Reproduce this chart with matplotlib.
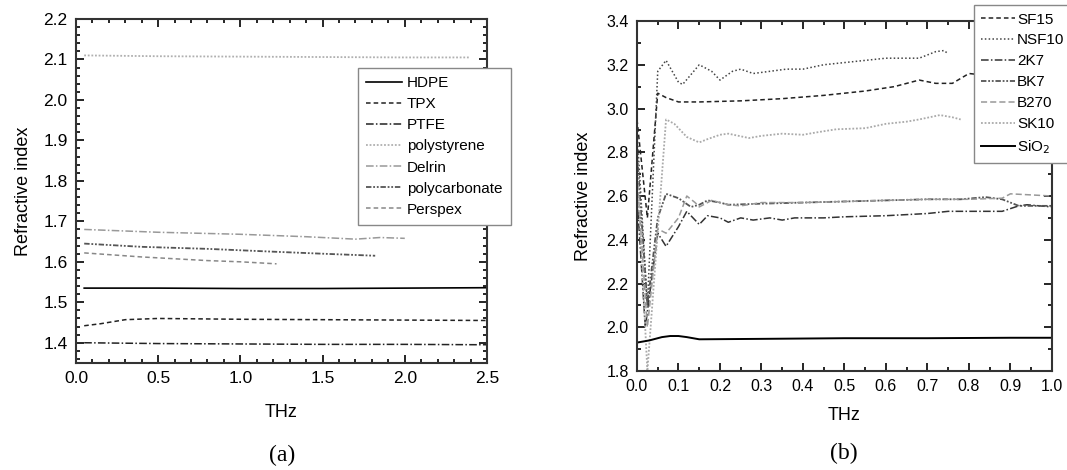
import matplotlib
matplotlib.use("Agg")
import matplotlib.pyplot as plt
from matplotlib.ticker import MultipleLocator

plt.rcParams["font.family"] = ["Liberation Sans", "DejaVu Sans"]

# ---- panel (a): polymers ----
hdpe_x = [0.05, 0.5, 1.0, 1.5, 2.0, 2.5]
hdpe_y = [1.535, 1.535, 1.534, 1.534, 1.535, 1.536]
tpx_x = [0.05, 0.15, 0.3, 0.5, 1.0, 1.5, 2.0, 2.5]
tpx_y = [1.442, 1.447, 1.457, 1.46, 1.458, 1.457, 1.456, 1.455]
ptfe_x = [0.05, 0.5, 1.0, 1.5, 2.0, 2.5]
ptfe_y = [1.40, 1.398, 1.397, 1.396, 1.396, 1.395]
polystyrene_x = [0.05, 0.5, 1.0, 1.5, 2.0, 2.4]
polystyrene_y = [2.11, 2.108, 2.107, 2.106, 2.105, 2.105]
delrin_x = [0.05, 0.5, 1.0, 1.4, 1.7, 1.85, 2.0]
delrin_y = [1.68, 1.673, 1.668, 1.662, 1.656, 1.66, 1.658]
polycarb_x = [0.05, 0.4, 0.8, 1.2, 1.5, 1.82]
polycarb_y = [1.645, 1.637, 1.632, 1.625, 1.62, 1.615]
perspex_x = [0.05, 0.4, 0.8, 1.0, 1.22]
perspex_y = [1.622, 1.612, 1.603, 1.6, 1.595]

# ---- panel (b): glasses ----
sf15_x = [0.0, 0.025, 0.05, 0.07, 0.1, 0.15, 0.25, 0.35, 0.45, 0.55, 0.62, 0.68, 0.72, 0.76, 0.8, 0.85]
sf15_y = [2.95, 2.5, 3.07, 3.05, 3.03, 3.03, 3.035, 3.045, 3.06, 3.08, 3.10, 3.13, 3.115, 3.115, 3.16, 3.15]
nsf10_x = [0.0, 0.025, 0.05, 0.07, 0.1, 0.11, 0.15, 0.18, 0.2, 0.23, 0.25, 0.28, 0.32, 0.36, 0.4,
           0.45, 0.5, 0.55, 0.6, 0.68, 0.72, 0.74, 0.75]
nsf10_y = [2.9, 2.1, 3.17, 3.22, 3.12, 3.11, 3.20, 3.17, 3.13, 3.17, 3.18, 3.16, 3.17, 3.18, 3.18,
           3.20, 3.21, 3.22, 3.23, 3.23, 3.26, 3.265, 3.25]
k2k7_x = [0.0, 0.02, 0.05, 0.07, 0.1, 0.12, 0.15, 0.17, 0.2, 0.22, 0.25, 0.28, 0.32, 0.35, 0.38,
          0.45, 0.5, 0.6, 0.7, 0.75, 0.88, 0.92, 0.94, 1.0]
k2k7_y = [2.6, 2.0, 2.43, 2.37, 2.46, 2.53, 2.47, 2.51, 2.50, 2.48, 2.50, 2.49, 2.50, 2.49, 2.50,
          2.50, 2.505, 2.51, 2.52, 2.53, 2.53, 2.555, 2.56, 2.55]
bk7_x = [0.0, 0.025, 0.05, 0.07, 0.1, 0.13, 0.15, 0.17, 0.2, 0.22, 0.3, 0.4, 0.5, 0.6, 0.7,
         0.78, 0.84, 0.88, 0.9, 0.92, 1.0]
bk7_y = [2.8, 2.1, 2.5, 2.61, 2.59, 2.55, 2.56, 2.58, 2.57, 2.56, 2.565, 2.57, 2.575, 2.58, 2.585,
         2.585, 2.595, 2.585, 2.57, 2.555, 2.555]
b270_x = [0.0, 0.025, 0.05, 0.07, 0.1, 0.12, 0.14, 0.15, 0.18, 0.22, 0.25, 0.3, 0.4, 0.5, 0.6,
          0.7, 0.8, 0.88, 0.9, 1.0]
b270_y = [2.7, 2.0, 2.45, 2.43, 2.50, 2.60, 2.57, 2.55, 2.58, 2.56, 2.555, 2.57, 2.57, 2.575, 2.58,
          2.585, 2.585, 2.59, 2.61, 2.60]
sk10_x = [0.0, 0.025, 0.07, 0.09, 0.12, 0.15, 0.17, 0.2, 0.22, 0.27, 0.3, 0.35, 0.4, 0.43, 0.48,
          0.55, 0.6, 0.65, 0.68, 0.73, 0.76, 0.78]
sk10_y = [2.75, 1.8, 2.95, 2.93, 2.87, 2.845, 2.86, 2.88, 2.885, 2.865, 2.875, 2.885, 2.88, 2.89,
          2.905, 2.91, 2.93, 2.94, 2.95, 2.97, 2.96, 2.95]
sio2_x = [0.0, 0.03, 0.06, 0.08, 0.1, 0.12, 0.15, 0.3, 0.5, 0.7, 0.9, 1.0]
sio2_y = [1.93, 1.94, 1.955, 1.96, 1.96, 1.955, 1.945, 1.947, 1.95, 1.95, 1.952, 1.952]

fig = plt.figure(figsize=(10.67, 4.70), dpi=100)
ax1 = fig.add_axes([0.0712, 0.2277, 0.3852, 0.7319])
ax2 = fig.add_axes([0.597, 0.2106, 0.3889, 0.7447])

ax1.plot(hdpe_x, hdpe_y, color="black", lw=1.2, ls="-", label="HDPE")
ax1.plot(tpx_x, tpx_y, color="#222222", lw=1.1, ls=(0, (3, 2)), label="TPX")
ax1.plot(ptfe_x, ptfe_y, color="#222222", lw=1.1, ls=(0, (5, 1.5, 1, 1.5)), label="PTFE")
ax1.plot(polystyrene_x, polystyrene_y, color="#b0b0b0", lw=1.3, ls=(0, (1, 1)), label="polystyrene")
ax1.plot(delrin_x, delrin_y, color="#999999", lw=1.1, ls=(0, (5, 1.5, 1, 1.5)), label="Delrin")
ax1.plot(polycarb_x, polycarb_y, color="#555555", lw=1.3, ls=(0, (3, 1, 1, 1, 1, 1)), label="polycarbonate")
ax1.plot(perspex_x, perspex_y, color="#888888", lw=1.1, ls=(0, (3, 2)), label="Perspex")

ax1.set_xlim(0, 2.5)
ax1.set_ylim(1.35, 2.2)
ax1.xaxis.set_major_locator(MultipleLocator(0.5))
ax1.xaxis.set_minor_locator(MultipleLocator(0.1))
ax1.yaxis.set_major_locator(MultipleLocator(0.1))
ax1.yaxis.set_minor_locator(MultipleLocator(0.02))
ax1.set_xlabel("THz", fontsize=13, labelpad=13)
ax1.set_ylabel("Refractive index", fontsize=13, labelpad=8)

ax2.plot(sf15_x, sf15_y, color="#222222", lw=1.1, ls=(0, (3, 2)), label="SF15")
ax2.plot(nsf10_x, nsf10_y, color="#444444", lw=1.1, ls=(0, (1, 1.5)), label="NSF10")
ax2.plot(k2k7_x, k2k7_y, color="#333333", lw=1.1, ls=(0, (5, 1.5, 1, 1.5)), label="2K7")
ax2.plot(bk7_x, bk7_y, color="#555555", lw=1.3, ls=(0, (3, 1, 1, 1, 1, 1)), label="BK7")
ax2.plot(b270_x, b270_y, color="#999999", lw=1.1, ls=(0, (4, 2)), label="B270")
ax2.plot(sk10_x, sk10_y, color="#aaaaaa", lw=1.3, ls=(0, (1, 1)), label="SK10")
ax2.plot(sio2_x, sio2_y, color="black", lw=1.4, ls="-", label="SiO$_2$")

ax2.set_xlim(0, 1.0)
ax2.set_ylim(1.8, 3.4)
ax2.xaxis.set_major_locator(MultipleLocator(0.1))
ax2.xaxis.set_minor_locator(MultipleLocator(0.05))
ax2.yaxis.set_major_locator(MultipleLocator(0.2))
ax2.yaxis.set_minor_locator(MultipleLocator(0.1))
ax2.set_xlabel("THz", fontsize=13, labelpad=9)
ax2.set_ylabel("Refractive index", fontsize=13, labelpad=10)

for ax, lsize in ((ax1, 12.5), (ax2, 11.5)):
    ax.tick_params(which="both", direction="in", top=True, right=True, width=1.2)
    ax.tick_params(which="major", length=6, labelsize=lsize, pad=6)
    ax.tick_params(which="minor", length=3)
    for s in ax.spines.values():
        s.set_linewidth(1.5)
        s.set_color("#333333")

leg1 = ax1.legend(loc="upper left", bbox_to_anchor=(0.3355, 0.8553), bbox_transform=fig.transFigure,
                  fontsize=11, frameon=True, fancybox=False, edgecolor="#888888", framealpha=1,
                  handlelength=2.3, labelspacing=0.46, borderpad=0.55, borderaxespad=0,
                  handletextpad=0.35)
leg1.get_frame().set_linewidth(1.0)

# right legend sticks out past the figure edge, as in the original
leg2 = ax2.legend(loc="upper left", bbox_to_anchor=(0.9125, 0.9894), bbox_transform=fig.transFigure,
                  fontsize=11, frameon=True, fancybox=False, edgecolor="#888888", framealpha=1,
                  handlelength=2.2, labelspacing=0.45, borderpad=0.5, borderaxespad=0,
                  handletextpad=0.15)
leg2.get_frame().set_linewidth(1.0)

fig.text(0.2643, 0.032, "(a)", ha="center", va="center", fontsize=17, family=["Liberation Serif", "DejaVu Serif"])
fig.text(0.791, 0.036, "(b)", ha="center", va="center", fontsize=17, family=["Liberation Serif", "DejaVu Serif"])

plt.savefig("out.png", dpi=100)
